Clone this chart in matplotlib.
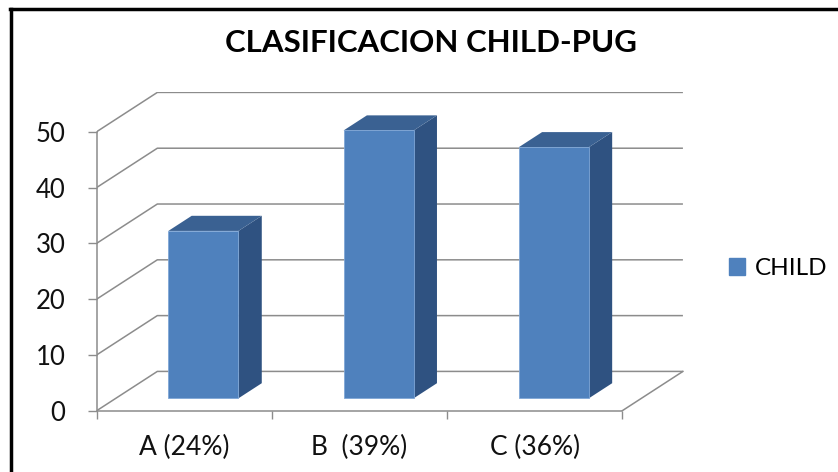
# -*- coding:utf-8 -*-
import numpy as np
import matplotlib
matplotlib.use('Agg')
import matplotlib.pyplot as plt
from matplotlib.patches import Patch
from matplotlib.lines import Line2D

categories = ['A (24%)', 'B  (39%)', 'C (36%)']
values = [30, 48, 45]
series_name = 'CHILD'
yticks = [0, 10, 20, 30, 40, 50]
title = 'CLASIFICACION CHILD-PUG'

# colours
front_c = '#4F81BD'
top_c = '#3A6192'
side_c = '#2F5281'
grid_c = '#8C8C8C'

plt.rcParams['font.family'] = ['Lato', 'DejaVu Sans']

# 3d look: depth offset of the back wall in data units
dxu = 0.346
dyu = 7.04
d0, d1 = 0.315, 0.70   # bar depth span (fraction of floor depth)
bw = 0.40

fig = plt.figure(figsize=(8.38, 4.72), dpi=100, facecolor='w')
W, H = 838.0, 472.0
x0px, y0px = 96.7, 410.7
px_cat, px_val = 175.2, 5.58
xmax, ymax = 3.36, 57.2
ax = fig.add_axes([x0px / W, (H - y0px) / H, xmax * px_cat / W, ymax * px_val / H])
ax.set_xlim(0, xmax)
ax.set_ylim(0, ymax)
ax.patch.set_alpha(0)

# walls / gridlines
n = len(categories)
for t in yticks:
    ax.plot([0, dxu, n + dxu], [t, t + dyu, t + dyu], color=grid_c, lw=1.1, zorder=1,
            solid_capstyle='butt')
ax.plot([n, n + dxu], [0, dyu], color=grid_c, lw=1.1, zorder=1)

# bars
for i, v in enumerate(values):
    xl = i + 0.5 - bw / 2 + d0 * dxu
    xr = xl + bw
    yb = d0 * dyu
    yt = yb + v
    ddx = (d1 - d0) * dxu
    ddy = (d1 - d0) * dyu
    ax.fill([xr, xr + ddx, xr + ddx, xr], [yb, yb + ddy, yt + ddy, yt], color=side_c, lw=0, zorder=3)
    ax.fill([xl, xr, xr + ddx, xl + ddx], [yt, yt, yt + ddy, yt + ddy], color=top_c, lw=0, zorder=3)
    ax.fill([xl, xr, xr, xl], [yb, yb, yt, yt], facecolor=front_c, edgecolor='#7FA6D6', lw=0.6, zorder=4)

# axes
for s in ['top', 'right']:
    ax.spines[s].set_visible(False)
ax.spines['left'].set_bounds(0, 50)
ax.spines['bottom'].set_bounds(0, n)
for s in ['left', 'bottom']:
    ax.spines[s].set_color(grid_c)
    ax.spines[s].set_linewidth(1.1)
ax.set_yticks(yticks)
ax.set_yticklabels([str(t) for t in yticks])
ax.tick_params(axis='y', length=6.5, width=1, color=grid_c, pad=16, labelsize=18.5, labelcolor='#111111')
ax.set_xticks(np.arange(n + 1))
ax.set_xticklabels([])
ax.tick_params(axis='x', which='major', length=6, width=1, color=grid_c)
ax.set_xticks(np.arange(n) + 0.5, minor=True)
ax.set_xticklabels(categories, minor=True)
ax.tick_params(axis='x', which='minor', length=0, pad=17.5, labelsize=19, labelcolor='#111111')

# title and legend
fig.text(431 / W, 1 - 43 / H, title, ha='center', va='center', fontsize=22.5, fontweight='bold')
fig.legend(handles=[Patch(color=front_c)], labels=[series_name], loc='center left',
           bbox_to_anchor=(729 / W, 1 - 268.7 / H), frameon=False, fontsize=17.5,
           handlelength=0.66, handleheight=0.66, handletextpad=0.4, borderpad=0, borderaxespad=0)

# frame of the chart (left and top only)
fig.add_artist(Line2D([11 / W, 11 / W], [0, 1 - 9 / H], color='k', lw=2.5))
fig.add_artist(Line2D([10 / W, 1], [1 - 9 / H, 1 - 9 / H], color='k', lw=2.5))

plt.savefig('out.png', dpi=100, facecolor='w')
